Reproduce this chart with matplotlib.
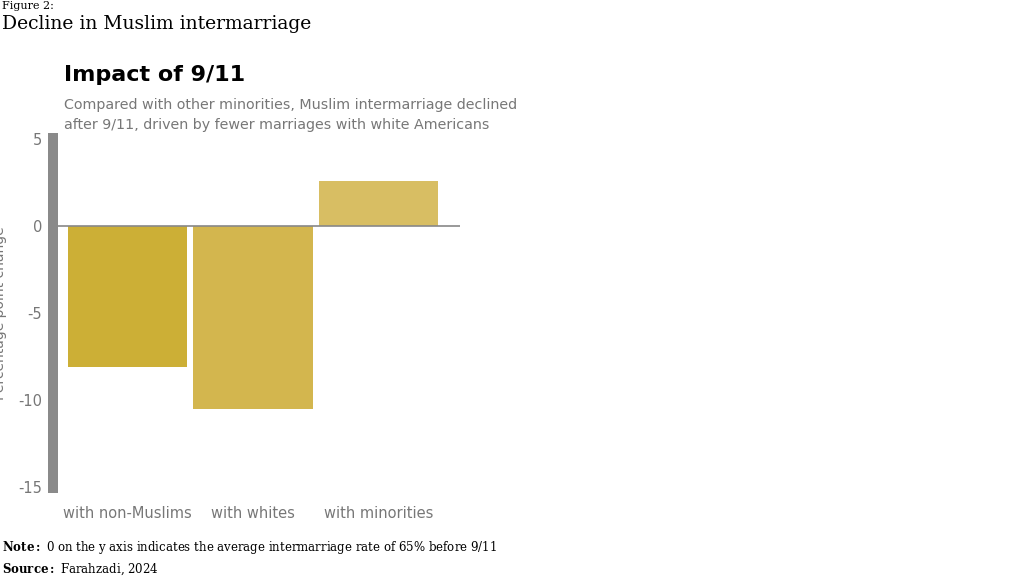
import matplotlib
matplotlib.use("Agg")
import matplotlib.pyplot as plt

plt.rcParams["mathtext.fontset"] = "dejavuserif"

categories = ["with non-Muslims", "with whites", "with minorities"]
values = [-8.1, -10.5, 2.6]
colors = ["#CCAF36", "#D3B64E", "#D8BE63"]
yticks = [5, 0, -5, -10, -15]

fig = plt.figure(figsize=(10.24, 5.76), dpi=100)
W, H = 1024, 576
ax = fig.add_axes([58/W, 1-493/H, (460-58)/W, (493-133)/H])
x = range(len(categories))
ax.bar(x, values, width=0.95, color=colors)
ax.axhline(0, color="#888888", lw=1.2)
ax.set_xlim(-0.555, 2.65)
ax.set_ylim(-15.35, 5.35)
ax.set_yticks(yticks)
ax.set_yticklabels([str(v) for v in yticks])
ax.set_xticks(list(x))
ax.set_xticklabels(categories)
for s in ["top", "right", "bottom"]:
    ax.spines[s].set_visible(False)
ax.spines["left"].set_linewidth(7.2)
ax.spines["left"].set_color("#8a8a8a")
ax.spines["left"].set_capstyle("butt")
ax.spines["left"].set_position(("outward", 3.6))
ax.tick_params(axis="both", length=0, colors="#777777", labelsize=10.5, pad=9)
ax.tick_params(axis="y", pad=8)
ax.set_ylabel("Percentage point change", color="#777777", fontsize=10)
ax.yaxis.set_label_coords(-0.128, 0.5)

fig.text(2/W, 1-6/H, "Figure 2:", family="DejaVu Serif", fontsize=8, va="center")
fig.text(2/W, 1-24/H, "Decline in Muslim intermarriage", family="DejaVu Serif", fontsize=13.5, va="center")
fig.text(64/W, 1-75/H, "Impact of 9/11", fontsize=16, fontweight="bold", va="center")
fig.text(64/W, 1-105/H, "Compared with other minorities, Muslim intermarriage declined", fontsize=10.3, color="#777777", va="center")
fig.text(64/W, 1-125/H, "after 9/11, driven by fewer marriages with white Americans", fontsize=10.3, color="#777777", va="center")
fig.text(2/W, 1-548/H, r"$\bf{Note:}$ 0 on the y axis indicates the average intermarriage rate of 65% before 9/11", family="DejaVu Serif", fontsize=8.5, va="center")
fig.text(2/W, 1-569/H, r"$\bf{Source:}$ Farahzadi, 2024", family="DejaVu Serif", fontsize=8.5, va="center")
fig.savefig("out.png", dpi=100)
